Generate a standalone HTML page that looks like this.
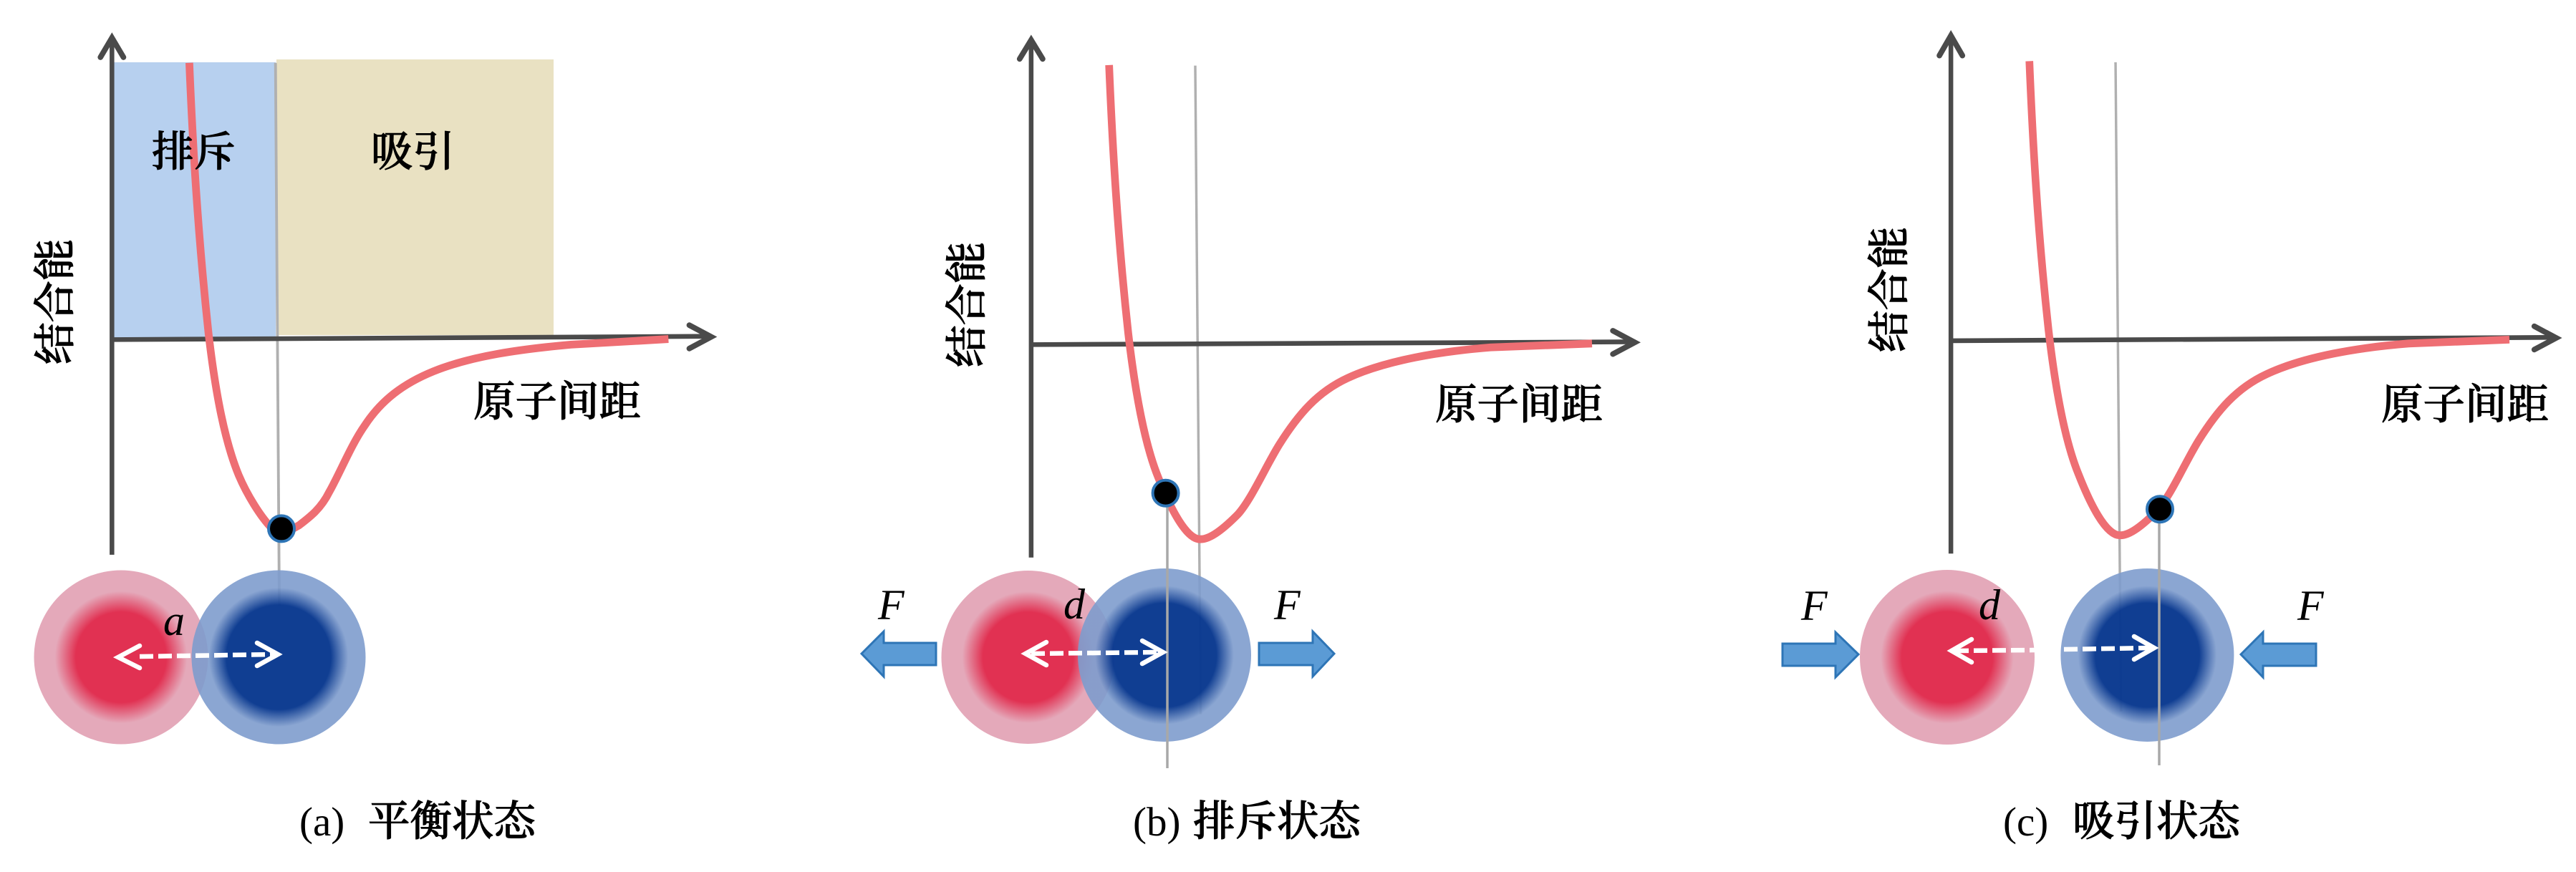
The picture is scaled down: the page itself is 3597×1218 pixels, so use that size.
<!DOCTYPE html>
<html><head><meta charset="utf-8"><style>
html,body{margin:0;padding:0;background:#fff}
svg{display:block}
.c{font-family:"Liberation Serif","Noto Serif CJK SC",serif;font-size:58.5px;fill:#000;stroke:#000;stroke-width:1;font-weight:500}
.l{font-family:"Liberation Serif",serif;font-size:57px;fill:#000}
.i{font-family:"Liberation Serif",serif;font-style:italic;font-size:60px;fill:#000}
</style></head><body>
<svg width="3597" height="1218" viewBox="0 0 3597 1218" xmlns="http://www.w3.org/2000/svg">
<defs>
<radialGradient id="r"><stop offset="0" stop-color="#e13152"/><stop offset=".52" stop-color="#e13152"/><stop offset=".76" stop-color="#e4a9ba"/><stop offset="1" stop-color="#e4a9ba"/></radialGradient>
<radialGradient id="b"><stop offset="0" stop-color="#0b3a90" stop-opacity=".98"/><stop offset=".6" stop-color="#0b3a90" stop-opacity=".98"/><stop offset=".8" stop-color="#7e9ccd" stop-opacity=".9"/><stop offset="1" stop-color="#7e9ccd" stop-opacity=".9"/></radialGradient>
<path id="curve" fill="none" stroke="#ee6e73" stroke-width="14" d="M455,117 C461,260 470,420 490,600 C503,710 520,800 545,860 C565,910 595,972 622,970 C640,970 665,950 690,925 C715,897 740,840 765,800 C800,745 835,705 890,680 C960,648 1060,632 1150,625 L1335,618"/>
</defs>
<rect width="3597" height="1218" fill="#fff"/>

<!-- Panel a -->
<rect x="157" y="87" width="228" height="385" fill="#b7d0ef"/>
<rect x="386" y="83" width="387" height="385" fill="#e9e1c2"/>
<g transform="scale(.7663,.7764)" fill="none">
<path d="M502,113 L509,1090" stroke="#b0b0b0" stroke-width="5"/>
<path d="M204,998 L204,70 M204,611 L1296,605" stroke="#4a4a4a" stroke-width="8.5"/>
<path d="M183,103 L204,68 L225,103 M1256,585 L1296,606 L1256,627" stroke="#4a4a4a" stroke-width="10" stroke-linecap="round"/>
<path stroke="#ee6e73" stroke-width="14" d="M345,113 C351,256 360,416 380,600 C393,710 410,795 435,855 C450,890 475,930 495,950 C505,962 525,957 545,945 C565,930 585,915 600,885 C620,850 640,800 665,765 C695,720 735,690 790,668 C860,640 950,628 1040,620 L1218,610"/>
</g>
<circle cx="169" cy="918" r="121.5" fill="url(#r)"/>
<circle cx="389" cy="918" r="121.5" fill="url(#b)"/>
<circle cx="393" cy="738.4" r="18" fill="#000" stroke="#2e75b6" stroke-width="4"/>
<g fill="none" stroke="#fff" stroke-width="6.5">
<path d="M195,917 L384,914" stroke-dasharray="19 7"/>
<path d="M195,902 L165,918 L195,933 M359,898 L388,914 L359,930" stroke-linecap="round"/>
</g>
<text class="c" x="212" y="232">排斥</text>
<text class="c" x="518" y="232">吸引</text>
<text class="c" x="661" y="581">原子间距</text>
<text class="c" transform="translate(97,509) rotate(-90)">结合能</text>
<text class="i" x="228" y="887">a</text>
<text class="l" x="418" y="1167">(a)</text>
<text class="c" x="514" y="1167">平衡状态</text>

<!-- Panel b -->
<g transform="translate(1200,0) scale(.7663,.7764)" fill="none">
<path d="M612,118 L622,1285" stroke="#b0b0b0" stroke-width="4.5"/>
<path d="M313,1003 L313,73 M313,620 L1414,615" stroke="#4a4a4a" stroke-width="8.5"/>
<path d="M292,106 L313,72 L334,106 M1373,595 L1413,616 L1373,637" stroke="#4a4a4a" stroke-width="10" stroke-linecap="round"/>
<use href="#curve"/>
</g>
<circle cx="1435.5" cy="918" r="121" fill="url(#r)"/>
<circle cx="1626" cy="915" r="121" fill="url(#b)"/>
<path d="M1630,689 L1630,1073" stroke="#a8a8a8" stroke-width="3.5"/>
<circle cx="1627.6" cy="688.7" r="18" fill="#000" stroke="#2e75b6" stroke-width="4"/>
<g fill="none" stroke="#fff" stroke-width="6.5">
<path d="M1440,913 L1620,911" stroke-dasharray="19 7"/>
<path d="M1461,897 L1432,913 L1461,929 M1595,895 L1624,911 L1595,927" stroke-linecap="round"/>
</g>
<g fill="#5b9bd5" stroke="#2e75b6" stroke-width="3">
<path d="M1203,913 L1234,882 L1234,898 L1307,898 L1307,929 L1234,929 L1234,945 Z"/>
<path d="M1863,913 L1833,882 L1833,898 L1758,898 L1758,929 L1833,929 L1833,945 Z"/>
</g>
<text class="c" x="2004" y="585">原子间距</text>
<text class="c" transform="translate(1370,513) rotate(-90)">结合能</text>
<text class="i" x="1485" y="864">d</text>
<text class="i" x="1226" y="865">F</text>
<text class="i" x="1779" y="865">F</text>
<text class="l" x="1582" y="1167">(b)</text>
<text class="c" x="1666" y="1167">排斥状态</text>

<!-- Panel c -->
<g transform="translate(2400,0) scale(.7663,.7764)" fill="none">
<path d="M723,112 L733,1280" stroke="#b0b0b0" stroke-width="4.5"/>
<path d="M423,996 L423,65 M423,613 L1522,607" stroke="#4a4a4a" stroke-width="8.5"/>
<path d="M402,100 L423,64 L444,100 M1486,587 L1526,608 L1486,629" stroke="#4a4a4a" stroke-width="10" stroke-linecap="round"/>
<use href="#curve" transform="translate(566,-7) scale(.994,1) translate(-455,0)"/>
</g>
<circle cx="2719" cy="918" r="122" fill="url(#r)"/>
<circle cx="2998.4" cy="915" r="121" fill="url(#b)"/>
<path d="M3015,711 L3015,1069" stroke="#a8a8a8" stroke-width="3.5"/>
<circle cx="3016" cy="711.2" r="18" fill="#000" stroke="#2e75b6" stroke-width="4"/>
<g fill="none" stroke="#fff" stroke-width="6.5">
<path d="M2730,909 L2841,908 M2882,907 L3004,905" stroke-dasharray="19 7"/>
<path d="M2753,893 L2725,909 L2753,925 M2980,889 L3008,905 L2980,921" stroke-linecap="round"/>
</g>
<g fill="#5b9bd5" stroke="#2e75b6" stroke-width="3">
<path d="M2595,914 L2563,883 L2563,899 L2489,899 L2489,930 L2563,930 L2563,946 Z"/>
<path d="M3129,914 L3160,883 L3160,899 L3234,899 L3234,930 L3160,930 L3160,946 Z"/>
</g>
<text class="c" x="3325" y="585">原子间距</text>
<text class="c" transform="translate(2658,492) rotate(-90)">结合能</text>
<text class="i" x="2763" y="865">d</text>
<text class="i" x="2515" y="866">F</text>
<text class="i" x="3208" y="866">F</text>
<text class="l" x="2797" y="1167">(c)</text>
<text class="c" x="2894" y="1167">吸引状态</text>
</svg>
</body></html>
